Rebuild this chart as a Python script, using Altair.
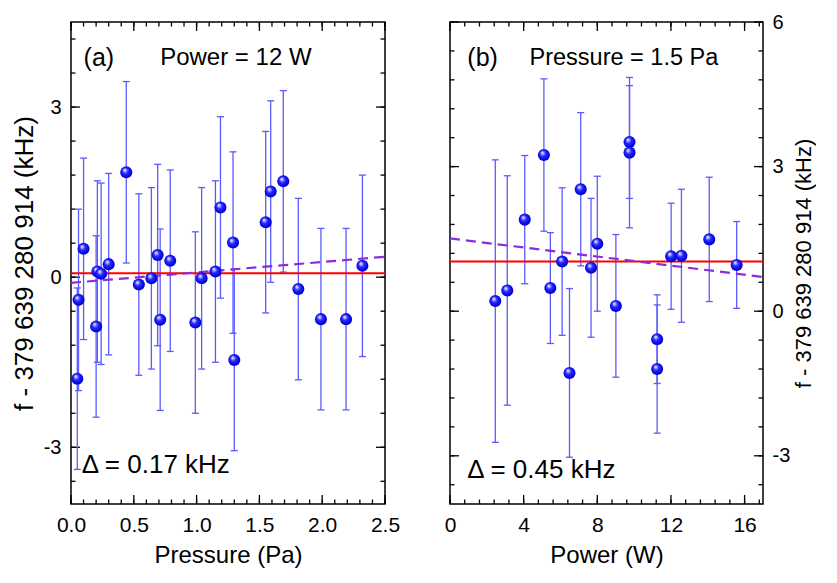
import altair as alt
import pandas as pd

FONT = "Liberation Sans"

# ---------------- Panel (a): Power = 12 W, vs pressure ----------------
a_pressure = [0.05, 0.06, 0.10, 0.20, 0.21, 0.24, 0.30, 0.44, 0.54, 0.64, 0.69, 0.71, 0.79,
              0.99, 1.04, 1.15, 1.19, 1.29, 1.30, 1.55, 1.59, 1.69, 1.81, 1.99, 2.19, 2.32]
a_shift = [-1.79, -0.40, 0.50, -0.87, 0.10, 0.06, 0.23, 1.85, -0.13, -0.02, 0.39, -0.75, 0.29,
           -0.80, -0.02, 0.10, 1.23, 0.61, -1.46, 0.97, 1.51, 1.69, -0.21, -0.74, -0.74, 0.20]
a_err = [1.60, 1.60, 1.60, 1.60, 1.60, 1.60, 1.60, 1.60, 1.60, 1.60, 1.60, 1.60, 1.60,
         1.60, 1.60, 1.60, 1.60, 1.60, 1.60, 1.60, 1.60, 1.60, 1.60, 1.60, 1.60, 1.60]
a_mean = [0.07]
a_fit_x = [0.0, 2.5]
a_fit_y = [-0.10, 0.36]
a_texts = ["(a)", "Power = 12 W", "\u0394 = 0.17 kHz"]
a_text_x = [0.10, 0.71, 0.085]
a_text_y = [3.87, 3.86, -3.32]
a_x_major = [0.0, 0.5, 1.0, 1.5, 2.0, 2.5]
a_x_minor = [round(i * 0.1, 2) for i in range(26)]
a_y_major = [-3, 0, 3]
a_y_minor = [round(-3.6 + i * 0.6, 2) for i in range(14)]

# ---------------- Panel (b): Pressure = 1.5 Pa, vs power ----------------
b_power = [2.46, 3.11, 4.06, 5.10, 5.45, 6.09, 6.49, 7.10, 7.66, 8.00, 9.01, 9.75, 9.75,
           11.25, 11.25, 12.01, 12.57, 14.08, 15.57]
b_shift = [0.21, 0.43, 1.90, 3.24, 0.48, 1.03, -1.28, 2.53, 0.90, 1.40, 0.11, 3.51, 3.29,
           -0.58, -1.20, 1.14, 1.15, 1.49, 0.96]
b_err = [2.93, 2.38, 1.33, 1.58, 1.15, 1.53, 1.75, 1.59, 1.44, 1.40, 1.48, 1.17, 1.56,
         0.92, 1.33, 1.10, 1.38, 1.29, 0.90]
b_mean = [1.03]
b_fit_x = [0.0, 17.0]
b_fit_y = [1.51, 0.71]
b_texts = ["(b)", "Pressure = 1.5 Pa", "\u0394 = 0.45 kHz"]
b_text_x = [0.94, 4.32, 0.94]
b_text_y = [5.25, 5.25, -3.30]
b_x_major = [0, 4, 8, 12, 16]
b_x_minor = [round(i * 0.8, 2) for i in range(22)]
b_y_major = [-3, 0, 3, 6]
b_y_minor = [round(-3.6 + i * 0.6, 2) for i in range(17)]

YTITLE = "f - 379 639 280 914 (kHz)"

SPHERE = {
    "gradient": "radial",
    "x1": 0.36, "y1": 0.30, "r1": 0.0,
    "x2": 0.5, "y2": 0.5, "r2": 0.62,
    "stops": [
        {"offset": 0.0, "color": "#ffffff"},
        {"offset": 0.14, "color": "#b8b8ff"},
        {"offset": 0.38, "color": "#2a2aff"},
        {"offset": 0.78, "color": "#0000dd"},
        {"offset": 1.0, "color": "#000090"},
    ],
}

MAJ, MIN = 9, 4.5
H = 482


def panel(xs, dep, err, mean, fx, fy, texts, tx, ty, tsizes, xmaj, xmin, ymaj, ymin,
          xdom, ydom, xtitle, xfmt, yside, width, ytitle_size):
    df = pd.DataFrame({"x": xs, "y": dep, "e": err})
    sx = alt.Scale(domain=xdom, nice=False, zero=False, padding=0)
    sy = alt.Scale(domain=ydom, nice=False, zero=False, padding=0)

    xlab = alt.Axis(orient="bottom", values=xmaj, format=xfmt, ticks=False, domain=False,
                    grid=False, labelFont=FONT, labelFontSize=21, labelColor="black",
                    labelPadding=10, labelFlush=False, title=xtitle, titleFont=FONT,
                    titleFontSize=24, titleFontWeight="normal", titleColor="black",
                    titlePadding=8, minExtent=0, labelOverlap=False)
    if yside == "left":
        ylab = alt.Axis(orient="left", values=ymaj, labelExpr="'' + datum.value", ticks=False,
                        domain=False, grid=False, labelFont=FONT, labelFontSize=20,
                        labelColor="black", labelPadding=10, labelFlush=False, title=YTITLE,
                        titleFont=FONT, titleFontSize=ytitle_size, titleFontWeight="normal",
                        titleColor="black", titlePadding=6, minExtent=0, labelOverlap=False)
    else:
        ylab = alt.Axis(orient="right", values=ymaj, labelExpr="'' + datum.value", ticks=False,
                        domain=False, grid=False, labelFont=FONT, labelFontSize=20,
                        labelColor="black", labelPadding=9, labelFlush=False, title=YTITLE,
                        titleFont=FONT, titleFontSize=ytitle_size, titleFontWeight="normal",
                        titleColor="black", titlePadding=4, titleAngle=270,
                        titleBaseline="top", minExtent=0, labelOverlap=False)

    layers = [alt.Chart(df).mark_point(opacity=0).encode(
        x=alt.X("x:Q", scale=sx, axis=xlab),
        y=alt.Y("y:Q", scale=sy, axis=ylab))]

    # inward frame ticks drawn as short rules (length converted to data units)
    ux = (xdom[1] - xdom[0]) / width
    uy = (ydom[1] - ydom[0]) / H
    for vals, L in [(xmaj, MAJ), (xmin, MIN)]:
        for edge, sgn in [(ydom[0], 1), (ydom[1], -1)]:
            tdf = pd.DataFrame({"kx": vals, "ky": [edge] * len(vals),
                                "ky2": [edge + sgn * L * uy] * len(vals)})
            layers.append(alt.Chart(tdf).mark_rule(color="black", strokeWidth=1.3).encode(
                x=alt.X("kx:Q", scale=sx, axis=None),
                y=alt.Y("ky:Q", scale=sy, axis=None),
                y2="ky2:Q"))
    for vals, L in [(ymaj, MAJ), (ymin, MIN)]:
        for edge, sgn in [(xdom[0], 1), (xdom[1], -1)]:
            tdf = pd.DataFrame({"ky": vals, "kx": [edge] * len(vals),
                                "kx2": [edge + sgn * L * ux] * len(vals)})
            layers.append(alt.Chart(tdf).mark_rule(color="black", strokeWidth=1.3).encode(
                y=alt.Y("ky:Q", scale=sy, axis=None),
                x=alt.X("kx:Q", scale=sx, axis=None),
                x2="kx2:Q"))

    base = alt.Chart(df).transform_calculate(lo="datum.y - datum.e", hi="datum.y + datum.e")
    bar_col = "#5a5aff"
    layers.append(base.mark_rule(color=bar_col, strokeWidth=1.3).encode(
        x=alt.X("x:Q", scale=sx, axis=None),
        y=alt.Y("lo:Q", scale=sy, axis=None),
        y2="hi:Q"))
    for f in ["lo", "hi"]:
        layers.append(base.mark_tick(orient="horizontal", color=bar_col, size=7,
                                     thickness=1.3, opacity=1).encode(
            x=alt.X("x:Q", scale=sx, axis=None),
            y=alt.Y(f + ":Q", scale=sy, axis=None)))

    mean_df = pd.DataFrame({"m": mean})
    layers.append(alt.Chart(mean_df).mark_rule(color="#ff0000", strokeWidth=2).encode(
        y=alt.Y("m:Q", scale=sy, axis=None)))

    fit_df = pd.DataFrame({"fx": fx, "fy": fy})
    layers.append(alt.Chart(fit_df).mark_line(color="#8a2be2", strokeWidth=2.2,
                                              strokeDash=[10, 6], clip=True).encode(
        x=alt.X("fx:Q", scale=sx, axis=None),
        y=alt.Y("fy:Q", scale=sy, axis=None)))

    layers.append(alt.Chart(df).mark_circle(size=145, opacity=1, color=SPHERE).encode(
        x=alt.X("x:Q", scale=sx, axis=None),
        y=alt.Y("y:Q", scale=sy, axis=None)))

    for t, x0, y0, fs in zip(texts, tx, ty, tsizes):
        tdf = pd.DataFrame({"tx": [x0], "ty": [y0], "t": [t]})
        layers.append(alt.Chart(tdf).mark_text(align="left", baseline="middle", font=FONT,
                                               fontSize=fs, color="black").encode(
            x=alt.X("tx:Q", scale=sx, axis=None),
            y=alt.Y("ty:Q", scale=sy, axis=None),
            text="t:N"))

    return alt.layer(*layers).resolve_axis(x="independent", y="independent").properties(
        width=width, height=H)


pa = panel(a_pressure, a_shift, a_err, a_mean, a_fit_x, a_fit_y,
           a_texts, a_text_x, a_text_y, [25, 24, 26],
           a_x_major, a_x_minor, a_y_major, a_y_minor,
           [0, 2.5], [-4, 4.5], "Pressure (Pa)", ".1f", "left", 314, 26)
pb = panel(b_power, b_shift, b_err, b_mean, b_fit_x, b_fit_y,
           b_texts, b_text_x, b_text_y, [25, 23.5, 26],
           b_x_major, b_x_minor, b_y_major, b_y_minor,
           [0, 17], [-4, 6], "Power (W)", "d", "right", 313, 22)

chart = alt.hconcat(pa, pb, spacing=42).properties(
    padding={"left": 2, "top": 3, "right": 0, "bottom": 0},
    background="white",
).configure_view(stroke="black", strokeWidth=1.5)

chart.save("out.html", embed_options={"renderer": "svg", "actions": False})
